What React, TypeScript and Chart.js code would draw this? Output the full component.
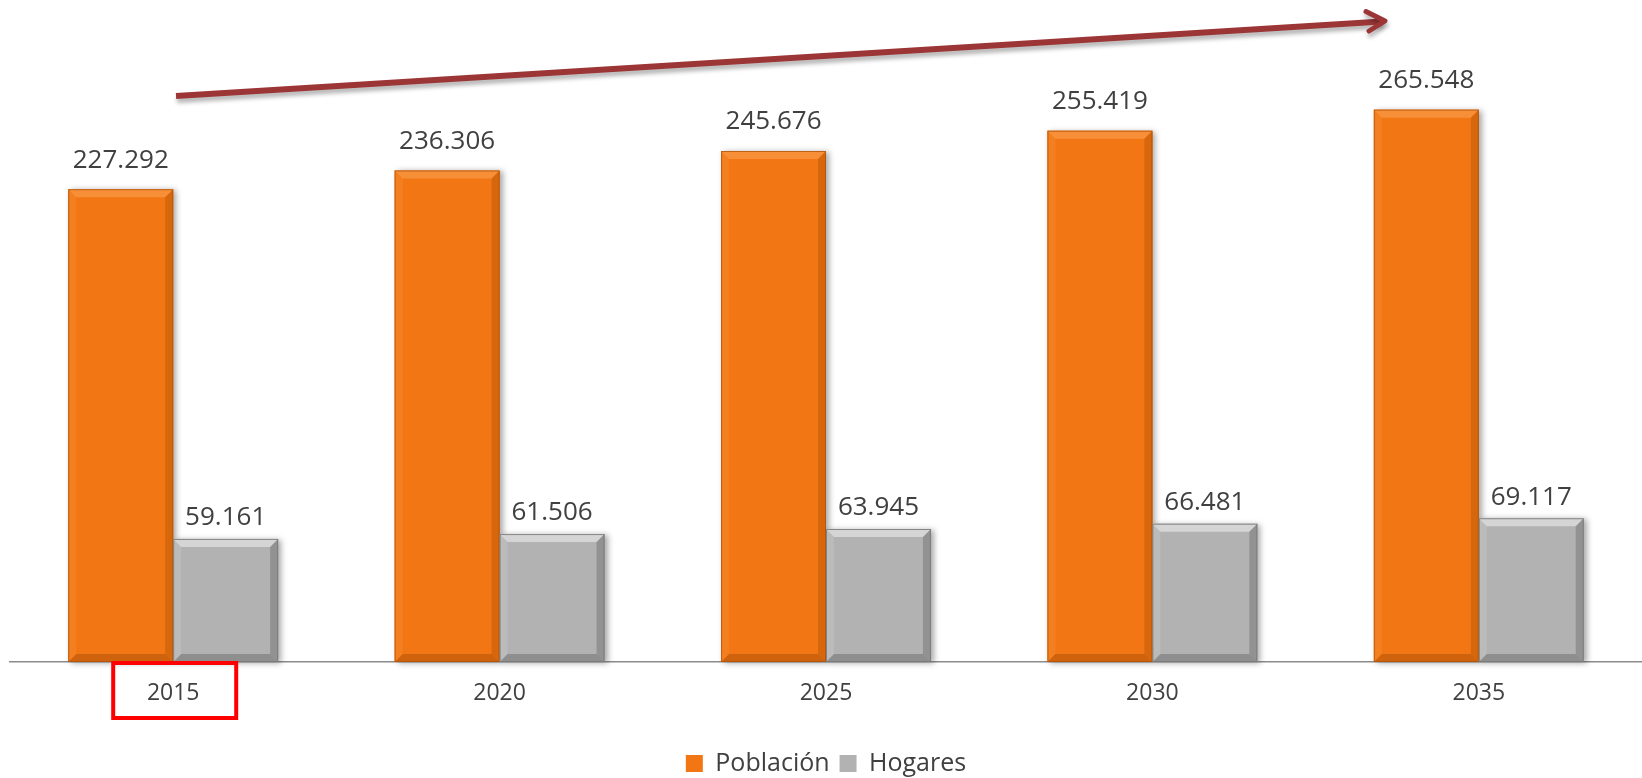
import React, { useEffect, useRef } from "react";
import { Chart, registerables } from "chart.js";

Chart.register(...registerables);

// ---- Data ----
const categories = ["2015", "2020", "2025", "2030", "2035"];
const poblacion = [227292, 236306, 245676, 255419, 265548];
const hogares = [59161, 61506, 63945, 66481, 69117];
const seriesNames = ["Población", "Hogares"];
const highlightedCategory = 0;

const FONT = "'Open Sans', 'Noto Sans', sans-serif";
const TEXT = "#404040";

const fmt = (v: number) => String(v).replace(/\B(?=(\d{3})+(?!\d))/g, ".");

const bevels = [
  {
    top: "rgba(255,190,120,0.35)",
    left: "rgba(255,160,80,0.20)",
    right: "rgba(150,65,0,0.30)",
    bottom: "rgba(140,60,0,0.35)",
    edge: "rgba(170,80,10,0.7)",
  },
  {
    top: "rgba(255,255,255,0.45)",
    left: "rgba(255,255,255,0.12)",
    right: "rgba(0,0,0,0.18)",
    bottom: "rgba(0,0,0,0.20)",
    edge: "rgba(120,120,120,0.85)",
  },
];
const labelOffsets = [29, 21];

const poly = (ctx: CanvasRenderingContext2D, pts: number[][], color: string) => {
  ctx.beginPath();
  ctx.moveTo(pts[0][0], pts[0][1]);
  for (let i = 1; i < pts.length; i++) ctx.lineTo(pts[i][0], pts[i][1]);
  ctx.closePath();
  ctx.fillStyle = color;
  ctx.fill();
};

const decorPlugin = {
  id: "decor",
  beforeDatasetsDraw(chart: any) {
    const ctx = chart.ctx as CanvasRenderingContext2D;
    chart.data.datasets.forEach((ds: any, di: number) => {
      const meta = chart.getDatasetMeta(di);
      meta.data.forEach((el: any) => {
        const w = el.width;
        ctx.save();
        ctx.shadowColor = "rgba(0,0,0,0.35)";
        ctx.shadowBlur = 6;
        ctx.shadowOffsetX = 3;
        ctx.shadowOffsetY = 1;
        ctx.fillStyle = ds.backgroundColor;
        ctx.fillRect(el.x - w / 2, el.y, w, el.base - el.y);
        ctx.restore();
      });
    });
  },
  afterDatasetsDraw(chart: any) {
    const ctx = chart.ctx as CanvasRenderingContext2D;
    chart.data.datasets.forEach((ds: any, di: number) => {
      const meta = chart.getDatasetMeta(di);
      const bv = bevels[di];
      meta.data.forEach((el: any, i: number) => {
        const L = el.x - el.width / 2;
        const R = el.x + el.width / 2;
        const T = el.y;
        const B = el.base;
        const b = 8;
        ctx.save();
        poly(ctx, [[L, T], [R, T], [R - b, T + b], [L + b, T + b]], bv.top);
        poly(ctx, [[L, T], [L + b, T + b], [L + b, B - b], [L, B]], bv.left);
        poly(ctx, [[R, T], [R, B], [R - b, B - b], [R - b, T + b]], bv.right);
        poly(ctx, [[L, B], [L + b, B - b], [R - b, B - b], [R, B]], bv.bottom);
        ctx.strokeStyle = bv.edge;
        ctx.lineWidth = 1;
        ctx.strokeRect(L + 0.5, T + 0.5, R - L - 1, B - T - 1);
        ctx.restore();

        // value label
        ctx.save();
        ctx.font = `26px ${FONT}`;
        ctx.fillStyle = TEXT;
        ctx.textAlign = "center";
        ctx.textBaseline = "middle";
        ctx.fillText(fmt(ds.data[i]), el.x, T - labelOffsets[di]);
        ctx.restore();
      });
    });
  },
  afterDraw(chart: any) {
    const ctx = chart.ctx as CanvasRenderingContext2D;
    // growth arrow
    ctx.save();
    ctx.shadowColor = "rgba(0,0,0,0.30)";
    ctx.shadowBlur = 4;
    ctx.shadowOffsetX = 1;
    ctx.shadowOffsetY = 4;
    ctx.strokeStyle = "#9C3636";
    ctx.lineWidth = 6;
    ctx.lineCap = "butt";
    ctx.beginPath();
    ctx.moveTo(176, 96);
    ctx.lineTo(1382, 21.5);
    ctx.stroke();
    ctx.lineWidth = 5;
    ctx.lineCap = "round";
    ctx.lineJoin = "round";
    ctx.beginPath();
    ctx.moveTo(1366, 11.5);
    ctx.lineTo(1385, 21);
    ctx.lineTo(1369, 31);
    ctx.stroke();
    ctx.restore();

    // highlight box around category label
    const xs = chart.scales.x;
    const cx = xs.getPixelForValue(highlightedCategory);
    const bottom = chart.chartArea.bottom;
    ctx.save();
    ctx.strokeStyle = "#FF0000";
    ctx.lineWidth = 4;
    ctx.strokeRect(cx - 60, bottom + 1, 123, 55);
    ctx.restore();
  },
};

export default function App() {
  const ref = useRef<HTMLCanvasElement | null>(null);

  useEffect(() => {
    if (!ref.current) return;
    const chart = new Chart(ref.current, {
      type: "bar",
      data: {
        labels: categories,
        datasets: [
          {
            label: seriesNames[0],
            data: poblacion,
            backgroundColor: "#F27714",
            borderWidth: 0,
          },
          {
            label: seriesNames[1],
            data: hogares,
            backgroundColor: "#B2B2B2",
            borderWidth: 0,
          },
        ],
      },
      options: {
        animation: false,
        responsive: true,
        maintainAspectRatio: false,
        layout: { padding: { top: 38, left: 10, right: 0, bottom: 0 } },
        datasets: {
          bar: { categoryPercentage: 0.643, barPercentage: 1 },
        },
        plugins: {
          legend: {
            position: "bottom",
            labels: {
              boxWidth: 17,
              boxHeight: 17,
              padding: 10,
              color: TEXT,
              font: { family: FONT, size: 25 },
            },
          },
          tooltip: { enabled: false },
        },
        scales: {
          x: {
            grid: { display: false, drawTicks: false },
            border: { display: true, color: "#8C8C8C", width: 1.5 },
            ticks: { color: TEXT, font: { family: FONT, size: 23 }, padding: 18 },
            afterFit: (s: any) => {
              s.height = 79;
            },
          },
          y: { display: false, min: 0, max: 300000 },
        },
      },
      plugins: [decorPlugin],
    } as any);
    return () => chart.destroy();
  }, []);

  return (
    <div
      style={{
        position: "fixed",
        left: 0,
        top: 0,
        width: 1642,
        height: 778,
        overflow: "hidden",
        background: "#ffffff",
      }}
    >
      <div style={{ position: "relative", width: 1642, height: 786 }}>
        <canvas ref={ref} />
      </div>
    </div>
  );
}
